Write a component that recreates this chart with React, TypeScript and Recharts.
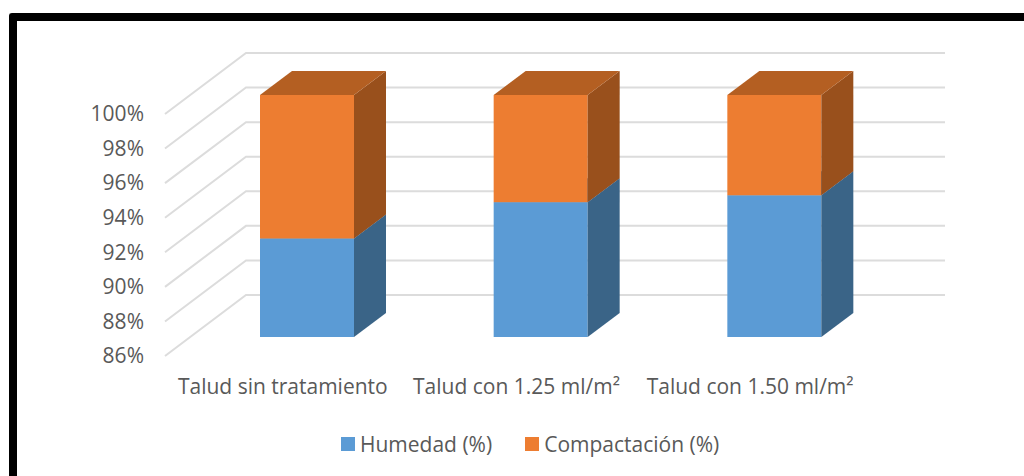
import { BarChart, Bar, XAxis, YAxis, CartesianGrid, Legend } from 'recharts';

const categories = ['Talud sin tratamiento', 'Talud con 1.25 ml/m²', 'Talud con 1.50 ml/m²'];
const humedad = [91.7, 93.8, 94.2];
const compactacion = [8.3, 6.2, 5.8];
const yTicks = [86, 88, 90, 92, 94, 96, 98, 100];

const data = categories.map((name, i) => ({
  name,
  humedad: humedad[i],
  compactacion: compactacion[i],
}));

const FONT = '"Open Sans", sans-serif';
const TEXT = '#595959';
const GRID = '#dcdcdc';

// 3D offsets, relative to the plane of the bar fronts
const DEPTH_X = 32;
const DEPTH_Y = 24;
const PLOT_BOTTOM = 337;

function Bar3D(props: any) {
  const { x, y, width, height, fill, side, top } = props;
  const bottom = Math.min(y + height, PLOT_BOTTOM);
  const right = x + width;
  return (
    <g>
      <rect x={x} y={y} width={width} height={bottom - y} fill={fill} />
      <polygon
        points={`${right},${y} ${right + DEPTH_X},${y - DEPTH_Y} ${right + DEPTH_X},${bottom - DEPTH_Y} ${right},${bottom}`}
        fill={side}
      />
      <polygon
        points={`${x},${y} ${x + DEPTH_X},${y - DEPTH_Y} ${right + DEPTH_X},${y - DEPTH_Y} ${right},${y}`}
        fill={top}
      />
    </g>
  );
}

function GridLine3D(props: any) {
  const { y1 } = props;
  return (
    <polyline
      points={`165,${y1 + 19} 246,${y1 - 42} 945,${y1 - 42}`}
      fill="none"
      stroke={GRID}
      strokeWidth={2}
    />
  );
}

function YTick(props: any) {
  const { x, y, payload } = props;
  return (
    <text x={x - 38} y={y + 19} dy="0.35em" textAnchor="end" fill={TEXT} fontSize={21} fontFamily={FONT}>
      {payload.value}%
    </text>
  );
}

function XTick(props: any) {
  const { x, y, payload } = props;
  return (
    <text x={x - 24} y={y + 42} dy="0.35em" textAnchor="middle" fill={TEXT} fontSize={21} fontFamily={FONT}>
      {payload.value}
    </text>
  );
}

function LegendRow(props: any) {
  return (
    <div style={{ display: 'flex', gap: 33, fontFamily: FONT, fontSize: 21, color: TEXT }}>
      {props.payload.map((item: any) => (
        <div key={item.value} style={{ display: 'flex', alignItems: 'center', height: 28 }}>
          <span style={{ width: 14, height: 14, background: item.color, marginRight: 5 }} />
          {item.value}
        </div>
      ))}
    </div>
  );
}

export default function App() {
  return (
    <div style={{ position: 'absolute', left: 0, top: 0, width: 1024, height: 476, overflow: 'hidden', background: '#fff' }}>
      <style>{'.recharts-layer{clip-path:none}'}</style>
      <div
        style={{
          position: 'absolute',
          left: 9,
          top: 13,
          width: 1040,
          height: 490,
          borderTop: '8px solid #000',
          borderLeft: '8px solid #000',
          borderRadius: 3,
          boxSizing: 'border-box',
        }}
      />
      <div style={{ position: 'absolute', left: 0, top: 0 }}>
        <BarChart
          width={1024}
          height={476}
          data={data}
          margin={{ top: 95, right: 133, bottom: 99, left: 130 }}
          barSize={94}
        >
          <CartesianGrid horizontal={GridLine3D} vertical={false} />
          <XAxis dataKey="name" axisLine={false} tickLine={false} height={40} interval={0} tick={XTick} />
          <YAxis
            width={60}
            domain={[86, 100]}
            ticks={yTicks}
            allowDataOverflow
            axisLine={false}
            tickLine={false}
            tick={YTick}
          />
          <Legend
            verticalAlign="middle"
            itemSorter={null}
            wrapperStyle={{ top: 430, left: 341, width: 500 }}
            content={LegendRow}
          />
          <Bar
            dataKey="humedad"
            name="Humedad (%)"
            stackId="a"
            fill="#5b9bd5"
            isAnimationActive={false}
            shape={(p: any) => <Bar3D {...p} side="#3a6487" top="#4a7fb0" />}
          />
          <Bar
            dataKey="compactacion"
            name="Compactación (%)"
            stackId="a"
            fill="#ed7d31"
            isAnimationActive={false}
            shape={(p: any) => <Bar3D {...p} side="#99501c" top="#b45f22" />}
          />
        </BarChart>
      </div>
    </div>
  );
}
